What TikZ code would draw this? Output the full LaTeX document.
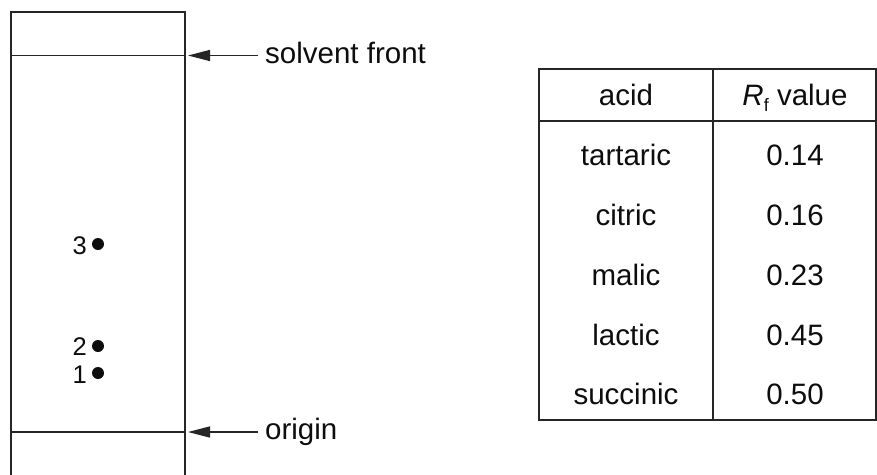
\documentclass[tikz,border=0pt]{standalone}
\usepackage{fontspec}
\setmainfont{Liberation Sans}
\usetikzlibrary{arrows.meta}
\tikzset{
  inkcol/.style={draw=black!85},
  plate/.style={inkcol, line width=2pt},
  thinline/.style={inkcol, line width=1.1pt},
  pointer/.style={inkcol, line width=1.5pt, -{Triangle[length=22pt,width=11pt]}},
  lbl/.style={inner sep=0pt, font=\fontsize{29.5}{34}\selectfont, text=black!95},
  spotlbl/.style={inner sep=0pt, font=\fontsize{25.5}{30}\selectfont, text=black!95},
  spot/.style={circle, fill=black!95, inner sep=0pt, minimum size=12pt},
  cell/.style={inner sep=0pt, anchor=base, font=\fontsize{29.5}{34}\selectfont, text=black!95},
  tbl/.style={inkcol, line width=1.3pt}
}
\begin{document}
\begin{tikzpicture}[x=1pt,y=-1pt]
\useasboundingbox (0,0) rectangle (877,474);
% chromatography plate
\draw[plate] (11,480) -- (11,12) -- (185,12) -- (185,480);
\coordinate (sfL) at (11,55.5);
\coordinate (sfR) at (185,55.5);
\coordinate (orL) at (11,432);
\coordinate (orR) at (185,432);
\draw[thinline] (sfL) -- (sfR);
\draw[thinline] (orL) -- (orR);
% labels with arrows
\coordinate (sftip) at (188,55.5);
\coordinate (ortip) at (188,432);
\node[lbl, anchor=base west] (sflabel) at (265,63) {solvent front};
\node[lbl, anchor=base west] (orlabel) at (265,439.5) {origin};
\draw[pointer] ([xshift=-7pt]sflabel.west |- sftip) -- (sftip);
\draw[pointer] ([xshift=-7pt]orlabel.west |- ortip) -- (ortip);
% spots
\node[spot] (s3) at (98,244) {};
\node[spot] (s2) at (98,346) {};
\node[spot] (s1) at (98,373) {};
\node[spotlbl, anchor=base east] (l3) at (87,254) {3};
\node[spotlbl, anchor=base east] (l2) at (87,355.5) {2};
\node[spotlbl, anchor=base east] (l1) at (87,383) {1};
% table
\draw[tbl] (539,69) rectangle (876,420);
\draw[tbl] (539,121) -- (876,121);
\draw[tbl] (713,69) -- (713,420);
\node[cell] (h1) at (626,105) {acid};
\node[cell] (h2) at (795,105) {\textit{R}\raisebox{-0.22em}{\fontsize{18}{18}\selectfont f} value};
\node[cell] (a1) at (626,165) {tartaric};
\node[cell] (v1) at (795,165) {0.14};
\node[cell] (a2) at (626,225) {citric};
\node[cell] (v2) at (795,225) {0.16};
\node[cell] (a3) at (626,285) {malic};
\node[cell] (v3) at (795,285) {0.23};
\node[cell] (a4) at (626,345) {lactic};
\node[cell] (v4) at (795,345) {0.45};
\node[cell] (a5) at (626,404) {succinic};
\node[cell] (v5) at (795,404) {0.50};
\end{tikzpicture}
\end{document}
